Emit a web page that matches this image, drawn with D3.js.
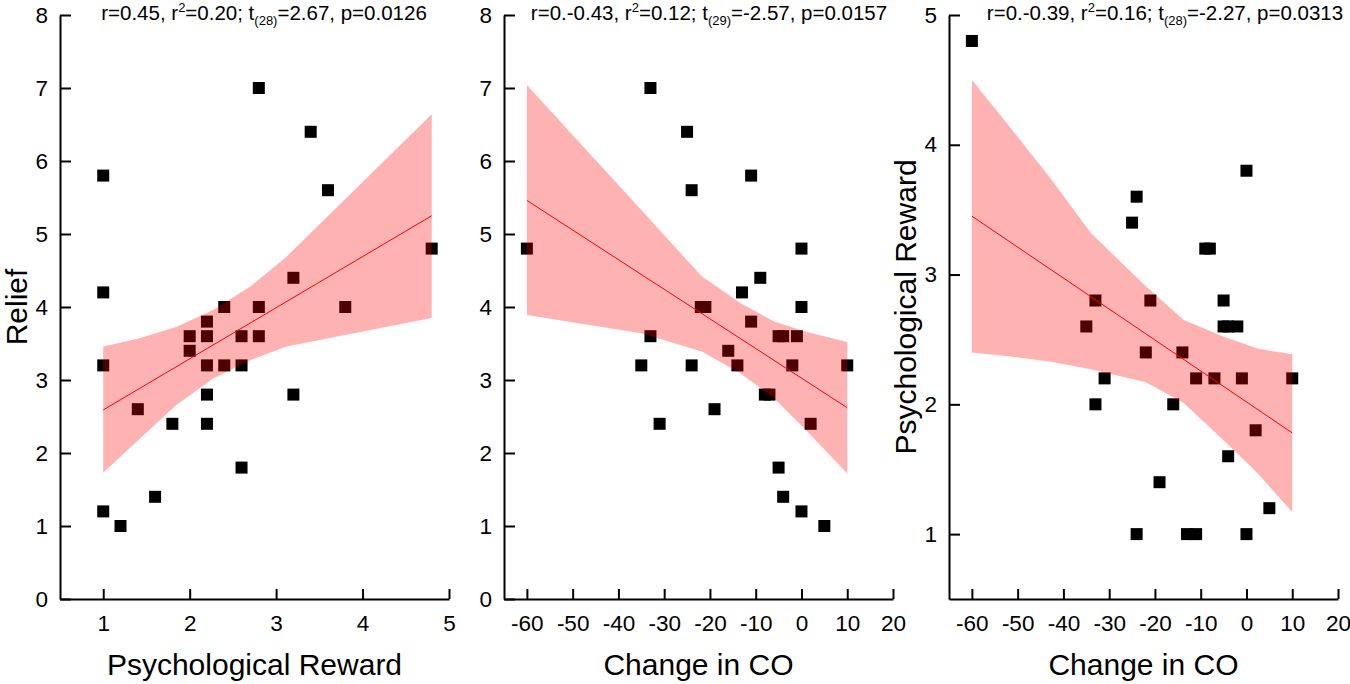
<!DOCTYPE html>
<html>
<head>
<meta charset="utf-8">
<script src="https://cdn.jsdelivr.net/npm/d3@7"></script>
<style>
    body { margin: 0; background: #fff; }
    svg { display: block; font-family: "Liberation Sans", Arial, Helvetica, sans-serif; }
</style>
</head>
<body>
<div id="chart"></div>
<script>
// ---- data ----

// panel 1: relief vs psychological reward
const rewardX1 = [1.0, 1.0, 2.8, 3.4, 3.6, 4.8, 3.2, 3.8, 2.4, 2.8, 2.2, 2.0, 2.2, 2.6, 2.8, 2.0, 1.0, 2.2, 2.4, 2.6, 2.2, 3.2, 1.4, 1.8, 2.2, 2.6, 1.6, 1.0, 1.2];
const reliefY1 = [5.8, 4.2, 7.0, 6.4, 5.6, 4.8, 4.4, 4.0, 4.0, 4.0, 3.8, 3.6, 3.6, 3.6, 3.6, 3.4, 3.2, 3.2, 3.2, 3.2, 2.8, 2.8, 2.6, 2.4, 2.4, 1.8, 1.4, 1.2, 1.0];
const bandX1 = [1.0, 1.41, 1.85, 2.27, 2.70, 3.12, 4.8];
const bandHi1 = [3.46, 3.57, 3.73, 3.96, 4.28, 4.69, 6.64];
const bandLo1 = [1.73, 2.18, 2.66, 3.02, 3.27, 3.46, 3.85];
const fitX1 = [1.0, 4.8];
const fitY1 = [2.59, 5.25];

// panel 2: relief vs change in CO
const coX2 = [-60, -33, -25, -24, -11, 0, -9, -13, -22, -21, 0, -11, -33, -5, -4, -1, -16, -35, -24, -14, -2, 10, -8, -7, -19, -31, 2, -5, -4, 0, 5];
const reliefY2 = [4.8, 7.0, 6.4, 5.6, 5.8, 4.8, 4.4, 4.2, 4.0, 4.0, 4.0, 3.8, 3.6, 3.6, 3.6, 3.6, 3.4, 3.2, 3.2, 3.2, 3.2, 3.2, 2.8, 2.8, 2.6, 2.4, 2.4, 1.8, 1.4, 1.2, 1.0];
const bandX2 = [-60, -35, -21.8, -13.5, -6, 1, 10];
const bandHi2 = [7.04, 5.33, 4.42, 4.06, 3.80, 3.66, 3.52];
const bandLo2 = [3.89, 3.64, 3.39, 3.10, 2.75, 2.31, 1.72];
const fitX2 = [-60, 10];
const fitY2 = [5.46, 2.62];

// panel 3: psychological reward vs change in CO
const coX3 = [-60, 0, -24, -25, -9, -8, -33, -21, -5, -35, -5, -4, -2, -22, -14, -31, -11, -7, -1, 10, -33, -16, 2, -4, -19, 5, -24, -13, -11, 0];
const rewardY3 = [4.8, 3.8, 3.6, 3.4, 3.2, 3.2, 2.8, 2.8, 2.8, 2.6, 2.6, 2.6, 2.6, 2.4, 2.4, 2.2, 2.2, 2.2, 2.2, 2.2, 2.0, 2.0, 1.8, 1.6, 1.4, 1.2, 1.0, 1.0, 1.0, 1.0];
const bandX3 = [-60, -52, -43, -34, -22, -13.7, -4.9, 2.4, 10];
const bandHi3 = [4.5, 4.15, 3.75, 3.32, 2.91, 2.65, 2.52, 2.43, 2.385];
const bandLo3 = [2.40, 2.37, 2.33, 2.27, 2.17, 2.01, 1.72, 1.47, 1.17];
const fitX3 = [-60, 10];
const fitY3 = [3.45, 1.78];

// ticks
const rewardTicks = [1, 2, 3, 4, 5];
const reliefTicks = [0, 1, 2, 3, 4, 5, 6, 7, 8];
const coTicks = [-60, -50, -40, -30, -20, -10, 0, 10, 20];

// stats line above each panel: [text, "sup" | "sub" | ""]
const stats1 = [["r=0.45, r", ""], ["2", "sup"], ["=0.20; t", ""], ["(28)", "sub"], ["=2.67, p=0.0126", ""]];
const stats2 = [["r=0.-0.43, r", ""], ["2", "sup"], ["=0.12; t", ""], ["(29)", "sub"], ["=-2.57, p=0.0157", ""]];
const stats3 = [["r=0.-0.39, r", ""], ["2", "sup"], ["=0.16; t", ""], ["(28)", "sub"], ["=-2.27, p=0.0313", ""]];

// ---- layout ----
const W = 1350, H = 684;
const TOP = 15, BOTTOM = 599, PLOT_W = 389;
const SQ = 12; // marker size
const TITLE_SIZE = 30;
const STAT_SIZE = 20.5;

const svg = d3.select("#chart").append("svg")
    .attr("width", W)
    .attr("height", H);

function drawPanel(p) {
    const x = d3.scaleLinear().domain(p.xDomain).range([p.left, p.left + PLOT_W]);
    const y = d3.scaleLinear().domain(p.yDomain).range([BOTTOM, TOP]);

    const g = svg.append("g");

    // points first, the band sits on top of them
    g.append("g").selectAll("rect")
        .data(d3.range(p.xs.length))
        .enter().append("rect")
        .attr("x", i => x(p.xs[i]) - SQ / 2)
        .attr("y", i => y(p.ys[i]) - SQ / 2)
        .attr("width", SQ)
        .attr("height", SQ)
        .attr("fill", "#000");

    // confidence band
    const area = d3.area()
        .x(i => x(p.bandX[i]))
        .y0(i => y(p.bandLo[i]))
        .y1(i => y(p.bandHi[i]));

    g.append("path")
        .datum(d3.range(p.bandX.length))
        .attr("fill", "#ff0000")
        .attr("fill-opacity", 0.3)
        .attr("d", area);

    // regression line
    const line = d3.line()
        .x(i => x(p.fitX[i]))
        .y(i => y(p.fitY[i]));

    g.append("path")
        .datum(d3.range(p.fitX.length))
        .attr("fill", "none")
        .attr("stroke", "#ff0000")
        .attr("stroke-width", 1)
        .attr("d", line);

    // axes, ticks pointing inward
    const xAxis = g.append("g")
        .attr("transform", "translate(0," + BOTTOM + ")")
        .call(d3.axisBottom(x).tickValues(p.xTicks).tickFormat(d => String(d))
            .tickSizeInner(-10).tickSizeOuter(0).tickPadding(16));

    const yAxis = g.append("g")
        .attr("transform", "translate(" + p.left + ",0)")
        .call(d3.axisLeft(y).tickValues(p.yTicks).tickFormat(d => String(d))
            .tickSizeInner(-11).tickSizeOuter(0).tickPadding(12));

    [xAxis, yAxis].forEach(function(a) {
        a.selectAll("path, line").attr("stroke", "#000").attr("stroke-width", 2);
        a.selectAll("text")
            .attr("fill", "#000")
            .attr("font-size", 22.5)
            .attr("font-family", "Liberation Sans, Arial, Helvetica, sans-serif");
    });

    // axis titles
    g.append("text")
        .attr("x", p.left + PLOT_W / 2)
        .attr("y", 675)
        .attr("text-anchor", "middle")
        .attr("font-size", TITLE_SIZE)
        .text(p.xTitle);

    if (p.yTitle) {
        g.append("text")
            .attr("transform", "translate(" + (p.left - 33) + "," + ((TOP + BOTTOM) / 2) + ") rotate(-90)")
            .attr("text-anchor", "middle")
            .attr("font-size", TITLE_SIZE)
            .text(p.yTitle);
    }

    // stats line
    const st = g.append("text")
        .attr("x", p.left + p.statDx)
        .attr("y", 19.5)
        .attr("text-anchor", "middle")
        .attr("font-size", STAT_SIZE);

    let shift = 0;
    p.stats.forEach(function(s) {
        const target = s[1] === "sup" ? -8 : (s[1] === "sub" ? 5 : 0);
        st.append("tspan")
            .attr("dy", target - shift)
            .attr("font-size", s[1] ? 13 : STAT_SIZE)
            .text(s[0]);
        shift = target;
    });
}

drawPanel({
    left: 60, xDomain: [0.5, 5], yDomain: [0, 8],
    xTicks: rewardTicks, yTicks: reliefTicks,
    xs: rewardX1, ys: reliefY1,
    bandX: bandX1, bandLo: bandLo1, bandHi: bandHi1,
    fitX: fitX1, fitY: fitY1,
    xTitle: "Psychological Reward", yTitle: "Relief",
    stats: stats1, statDx: 204
});

drawPanel({
    left: 504, xDomain: [-65, 20], yDomain: [0, 8],
    xTicks: coTicks, yTicks: reliefTicks,
    xs: coX2, ys: reliefY2,
    bandX: bandX2, bandLo: bandLo2, bandHi: bandHi2,
    fitX: fitX2, fitY: fitY2,
    xTitle: "Change in CO", yTitle: "",
    stats: stats2, statDx: 205
});

drawPanel({
    left: 949, xDomain: [-65, 20], yDomain: [0.5, 5],
    xTicks: coTicks, yTicks: rewardTicks,
    xs: coX3, ys: rewardY3,
    bandX: bandX3, bandLo: bandLo3, bandHi: bandHi3,
    fitX: fitX3, fitY: fitY3,
    xTitle: "Change in CO", yTitle: "Psychological Reward",
    stats: stats3, statDx: 216
});
</script>
</body>
</html>
